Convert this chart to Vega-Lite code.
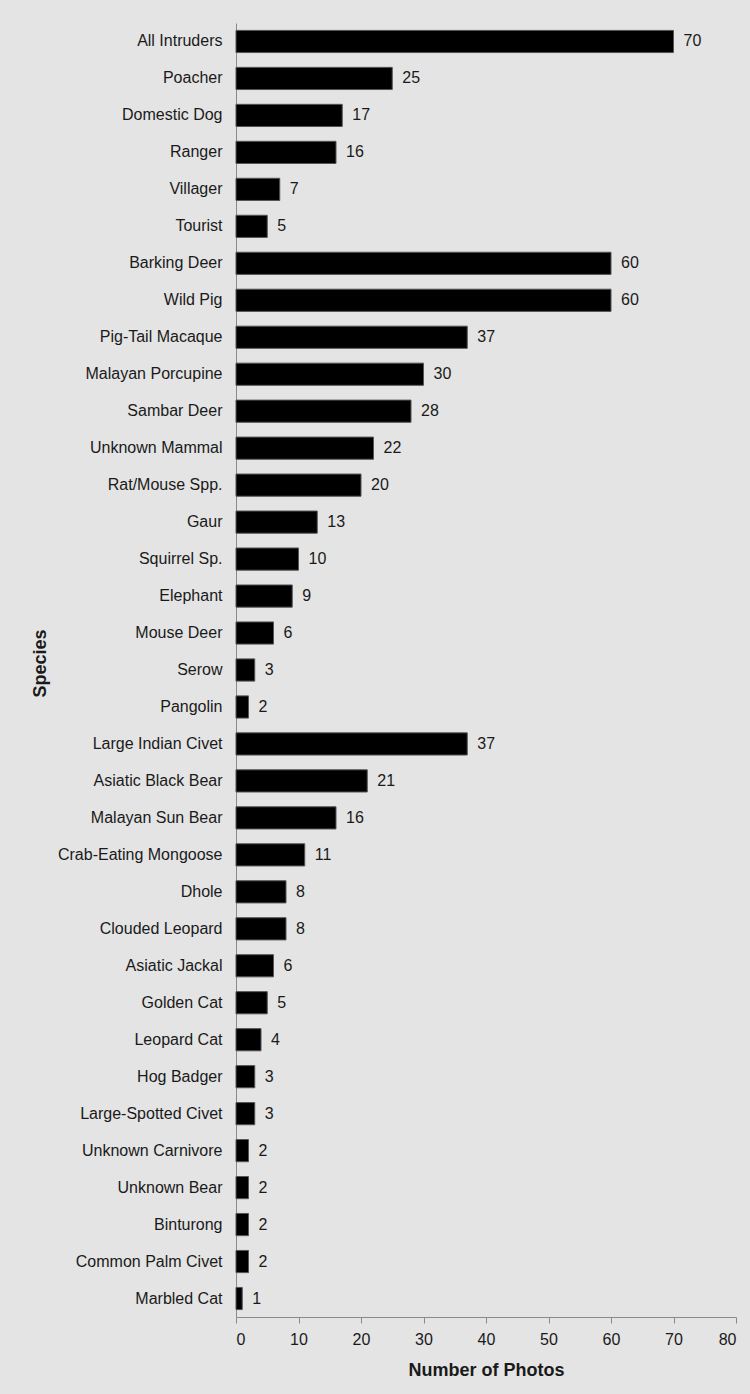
{
  "$schema": "https://vega.github.io/schema/vega-lite/v6.json",
  "autosize": "none",
  "width": 500,
  "height": 1294,
  "padding": {"left": 236, "top": 23, "right": 14, "bottom": 77},
  "background": "#e4e4e4",
  "config": {
    "view": {"stroke": null},
    "font": "Liberation Sans",
    "axis": {"labelFont": "Liberation Sans", "titleFont": "Liberation Sans", "labelColor": "#1a1a1a", "titleColor": "#1a1a1a", "domainColor": "#8a8a8a", "tickColor": "#8a8a8a", "grid": false}
  },
  "data": {
    "values": [
      {"species": "All Intruders", "photos": 70},
      {"species": "Poacher", "photos": 25},
      {"species": "Domestic Dog", "photos": 17},
      {"species": "Ranger", "photos": 16},
      {"species": "Villager", "photos": 7},
      {"species": "Tourist", "photos": 5},
      {"species": "Barking Deer", "photos": 60},
      {"species": "Wild Pig", "photos": 60},
      {"species": "Pig-Tail Macaque", "photos": 37},
      {"species": "Malayan Porcupine", "photos": 30},
      {"species": "Sambar Deer", "photos": 28},
      {"species": "Unknown Mammal", "photos": 22},
      {"species": "Rat/Mouse Spp.", "photos": 20},
      {"species": "Gaur", "photos": 13},
      {"species": "Squirrel Sp.", "photos": 10},
      {"species": "Elephant", "photos": 9},
      {"species": "Mouse Deer", "photos": 6},
      {"species": "Serow", "photos": 3},
      {"species": "Pangolin", "photos": 2},
      {"species": "Large Indian Civet", "photos": 37},
      {"species": "Asiatic Black Bear", "photos": 21},
      {"species": "Malayan Sun Bear", "photos": 16},
      {"species": "Crab-Eating Mongoose", "photos": 11},
      {"species": "Dhole", "photos": 8},
      {"species": "Clouded Leopard", "photos": 8},
      {"species": "Asiatic Jackal", "photos": 6},
      {"species": "Golden Cat", "photos": 5},
      {"species": "Leopard Cat", "photos": 4},
      {"species": "Hog Badger", "photos": 3},
      {"species": "Large-Spotted Civet", "photos": 3},
      {"species": "Unknown Carnivore", "photos": 2},
      {"species": "Unknown Bear", "photos": 2},
      {"species": "Binturong", "photos": 2},
      {"species": "Common Palm Civet", "photos": 2},
      {"species": "Marbled Cat", "photos": 1}
    ]
  },
  "encoding": {
    "y": {
      "field": "species", "type": "nominal", "sort": null,
      "scale": {"paddingInner": 0.4, "paddingOuter": 0.2},
      "axis": {"title": "Species", "ticks": false, "labelPadding": 14, "labelFontSize": 16, "titleFontSize": 18, "titleFontWeight": "bold", "titleX": -196, "titleY": 640, "titleAnchor": "middle", "titleBaseline": "middle", "titleAngle": -90}
    },
    "x": {
      "field": "photos", "type": "quantitative",
      "scale": {"domain": [0, 80], "nice": false},
      "axis": {"title": "Number of Photos", "values": [0,10,20,30,40,50,60,70,80], "tickSize": 6, "labelPadding": 8, "labelFontSize": 16, "titleFontSize": 18, "titleFontWeight": "bold", "titlePadding": 14}
    }
  },
  "layer": [
    {"mark": {"type": "bar", "color": "#000000", "stroke": "#555555", "strokeWidth": 1}},
    {"mark": {"type": "text", "align": "left", "dx": 10, "fontSize": 16, "color": "#1a1a1a"}, "encoding": {"text": {"field": "photos", "type": "quantitative"}}}
  ]
}
